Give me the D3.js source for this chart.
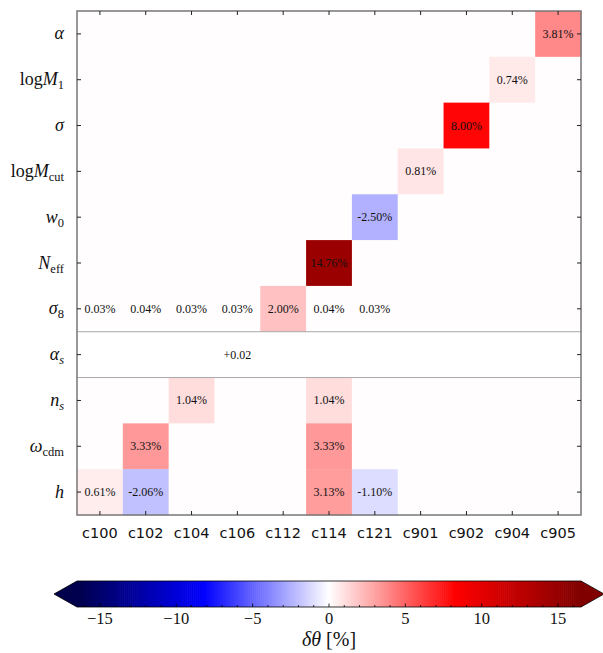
<!DOCTYPE html>
<html>
<head>
<meta charset="utf-8">
<script src="https://cdn.jsdelivr.net/npm/d3@7"></script>
<style>
body { margin: 0; background: #fff; }
.cell-text { font-family: "Liberation Serif", serif; font-size: 12px; fill: #111; }
.param { font-family: "Liberation Serif", serif; font-size: 18px; fill: #111; }
.run { font-family: "DejaVu Sans", sans-serif; font-size: 14.5px; fill: #111; }
.cb-tick { font-family: "Liberation Serif", serif; font-size: 16.5px; fill: #111; }
</style>
</head>
<body>
<script>
// runs on the x axis
var runs = ["c100", "c102", "c104", "c106", "c112", "c114", "c121", "c901", "c902", "c904", "c905"];

// parameters on the y axis, top to bottom
var params = ["alpha", "logM1", "sigma", "logMcut", "w0", "Neff", "sigma8", "alpha_s", "n_s", "omega_cdm", "h"];

// shift of each parameter in percent (row = param, col = run); null = no colour
var deltas = [
  [0, 0, 0, 0, 0, 0, 0, 0, 0, 0, 3.81],
  [0, 0, 0, 0, 0, 0, 0, 0, 0, 0.74, 0],
  [0, 0, 0, 0, 0, 0, 0, 0, 8.00, 0, 0],
  [0, 0, 0, 0, 0, 0, 0, 0.81, 0, 0, 0],
  [0, 0, 0, 0, 0, 0, -2.50, 0, 0, 0, 0],
  [0, 0, 0, 0, 0, 14.76, 0, 0, 0, 0, 0],
  [0.03, 0.04, 0.03, 0.03, 2.00, 0.04, 0.03, 0, 0, 0, 0],
  [null, null, null, null, null, null, null, null, null, null, null],
  [0, 0, 1.04, 0, 0, 1.04, 0, 0, 0, 0, 0],
  [0, 3.33, 0, 0, 0, 3.33, 0, 0, 0, 0, 0],
  [0.61, -2.06, 0, 0, 0, 3.13, -1.10, 0, 0, 0, 0]
];

// alpha_s is shifted in absolute terms
var alphaSShift = ["", "", "", "+0.02", "", "", "", "", "", "", ""];

// colour range and colourbar ticks
var vmax = 16.5;
var cbMajorTicks = [-15, -10, -5, 0, 5, 10, 15];
var cbMinorTicks = d3.range(-16, 17, 1);

// label markup: [text, kind] kind: r = upright, i = italic, s = subscript upright, si = subscript italic
var paramLabels = {
  alpha: [["α", "i"]],
  logM1: [["log", "r"], ["M", "i"], ["1", "s"]],
  sigma: [["σ", "i"]],
  logMcut: [["log", "r"], ["M", "i"], ["cut", "s"]],
  w0: [["w", "i"], ["0", "s"]],
  Neff: [["N", "i"], ["eff", "s"]],
  sigma8: [["σ", "i"], ["8", "s"]],
  alpha_s: [["α", "i"], ["s", "si"]],
  n_s: [["n", "i"], ["s", "si"]],
  omega_cdm: [["ω", "i"], ["cdm", "s"]],
  h: [["h", "i"]]
};

var margin = {top: 11, left: 77};
var width = 504, height = 504;

var svg = d3.select("body").append("svg")
  .attr("width", 603)
  .attr("height", 653);

var g = svg.append("g")
  .attr("transform", "translate(" + margin.left + "," + margin.top + ")");

var x = d3.scaleBand().domain(runs).range([0, width]);
var y = d3.scaleBand().domain(params).range([0, height]);

// seismic colormap, quantised to 256 levels like matplotlib
var seismic = d3.scaleLinear()
  .domain([0, 0.25, 0.5, 0.75, 1])
  .range(["rgb(0,0,77)", "rgb(0,0,255)", "rgb(255,255,255)", "rgb(255,0,0)", "rgb(128,0,0)"])
  .clamp(true);
function color(v) {
  var t = (v + vmax) / (2 * vmax);
  var i = Math.min(255, Math.max(0, Math.floor(t * 256)));
  return seismic(i / 255);
}

// cells
var cells = [];
deltas.forEach(function(row, i) {
  row.forEach(function(v, j) {
    cells.push({param: params[i], run: runs[j], value: v});
  });
});

g.selectAll("rect.cell")
  .data(cells)
  .enter()
  .append("rect")
  .attr("class", "cell")
  .attr("x", function(d) { return x(d.run); })
  .attr("y", function(d) { return y(d.param); })
  .attr("width", x.bandwidth() + 0.5)
  .attr("height", y.bandwidth() + 0.5)
  .attr("fill", function(d) { return d.value === null ? "#fff" : color(d.value); });

g.selectAll("text.cell-text")
  .data(cells.filter(function(d) { return d.value !== null && d.value !== 0; }))
  .enter()
  .append("text")
  .attr("class", "cell-text")
  .attr("x", function(d) { return x(d.run) + x.bandwidth() / 2; })
  .attr("y", function(d) { return y(d.param) + y.bandwidth() / 2 + 4; })
  .attr("text-anchor", "middle")
  .text(function(d) { return d.value.toFixed(2) + "%"; });

// alpha_s row
g.selectAll("text.shift")
  .data(alphaSShift.map(function(t, j) { return {run: runs[j], text: t}; }).filter(function(d) { return d.text; }))
  .enter()
  .append("text")
  .attr("class", "cell-text shift")
  .attr("x", function(d) { return x(d.run) + x.bandwidth() / 2; })
  .attr("y", y("alpha_s") + y.bandwidth() / 2 + 4)
  .attr("text-anchor", "middle")
  .text(function(d) { return d.text; });

[y("alpha_s"), y("alpha_s") + y.bandwidth()].forEach(function(yy) {
  g.append("line")
    .attr("x1", 0).attr("x2", width)
    .attr("y1", yy).attr("y2", yy)
    .attr("stroke", "#aaa")
    .attr("stroke-width", 1);
});

// frame
g.append("rect")
  .attr("width", width).attr("height", height)
  .attr("fill", "none")
  .attr("stroke", "#777")
  .attr("stroke-width", 1.5);

// inward ticks on all four sides
var tickLen = 4;
runs.forEach(function(r) {
  var cx = x(r) + x.bandwidth() / 2;
  g.append("line").attr("x1", cx).attr("x2", cx).attr("y1", 0).attr("y2", tickLen).attr("stroke", "#222");
  g.append("line").attr("x1", cx).attr("x2", cx).attr("y1", height).attr("y2", height - tickLen).attr("stroke", "#222");
});
params.forEach(function(p) {
  var cy = y(p) + y.bandwidth() / 2;
  g.append("line").attr("x1", 0).attr("x2", tickLen).attr("y1", cy).attr("y2", cy).attr("stroke", "#222");
  g.append("line").attr("x1", width).attr("x2", width - tickLen).attr("y1", cy).attr("y2", cy).attr("stroke", "#222");
});

// x labels
g.selectAll("text.run")
  .data(runs)
  .enter()
  .append("text")
  .attr("class", "run")
  .attr("x", function(d) { return x(d) + x.bandwidth() / 2; })
  .attr("y", height + 23)
  .attr("text-anchor", "middle")
  .text(function(d) { return d; });

// y labels
params.forEach(function(p) {
  var t = g.append("text")
    .attr("class", "param")
    .attr("x", -13)
    .attr("y", y(p) + y.bandwidth() / 2 + 5.5)
    .attr("text-anchor", "end");
  var down = false;
  paramLabels[p].forEach(function(part) {
    var ts = t.append("tspan").text(part[0]);
    if (part[1] === "i" || part[1] === "si") ts.attr("font-style", "italic");
    if (part[1] === "s" || part[1] === "si") {
      ts.attr("font-size", "12.5px").attr("dy", 4);
      down = true;
    }
  });
});

// colourbar
var cbTop = 581, cbH = 26, cbArrow = 23;
var cbx = d3.scaleLinear().domain([-vmax, vmax]).range([margin.left, margin.left + width]);
var cb = svg.append("g");
var steps = d3.range(256);
cb.selectAll("rect")
  .data(steps)
  .enter()
  .append("rect")
  .attr("x", function(i) { return cbx(-vmax + 2 * vmax * i / 256); })
  .attr("y", cbTop)
  .attr("width", width / 256 + 0.6)
  .attr("height", cbH)
  .attr("fill", function(i) { return seismic(i / 255); });

var x0 = cbx(-vmax), x1 = cbx(vmax);
cb.append("path")
  .attr("d", "M" + x0 + "," + cbTop + "L" + (x0 - cbArrow) + "," + (cbTop + cbH / 2) + "L" + x0 + "," + (cbTop + cbH) + "Z")
  .attr("fill", seismic(0));
cb.append("path")
  .attr("d", "M" + x1 + "," + cbTop + "L" + (x1 + cbArrow) + "," + (cbTop + cbH / 2) + "L" + x1 + "," + (cbTop + cbH) + "Z")
  .attr("fill", seismic(1));
cb.append("path")
  .attr("d", "M" + x0 + "," + cbTop + "L" + x1 + "," + cbTop + "L" + (x1 + cbArrow) + "," + (cbTop + cbH / 2) +
    "L" + x1 + "," + (cbTop + cbH) + "L" + x0 + "," + (cbTop + cbH) + "L" + (x0 - cbArrow) + "," + (cbTop + cbH / 2) + "Z")
  .attr("fill", "none")
  .attr("stroke", "#000")
  .attr("stroke-width", 0.8);

cb.selectAll("line.minor")
  .data(cbMinorTicks)
  .enter()
  .append("line")
  .attr("x1", function(d) { return cbx(d); })
  .attr("x2", function(d) { return cbx(d); })
  .attr("y1", cbTop + cbH)
  .attr("y2", function(d) { return cbTop + cbH - (d % 5 === 0 ? 3.5 : 2); })
  .attr("stroke", "#000")
  .attr("stroke-width", 0.8);

cb.selectAll("text.cb-tick")
  .data(cbMajorTicks)
  .enter()
  .append("text")
  .attr("class", "cb-tick")
  .attr("x", function(d) { return cbx(d); })
  .attr("y", cbTop + cbH + 17)
  .attr("text-anchor", "middle")
  .text(function(d) { return d < 0 ? "\u2212" + Math.abs(d) : d; });

var lbl = svg.append("text")
  .attr("x", cbx(0))
  .attr("y", 646)
  .attr("text-anchor", "middle")
  .attr("font-family", "Liberation Serif, serif")
  .attr("font-size", "20px")
  .attr("fill", "#111");
lbl.append("tspan").attr("font-style", "italic").text("δθ");
lbl.append("tspan").text(" [%]");
</script>
</body>
</html>
